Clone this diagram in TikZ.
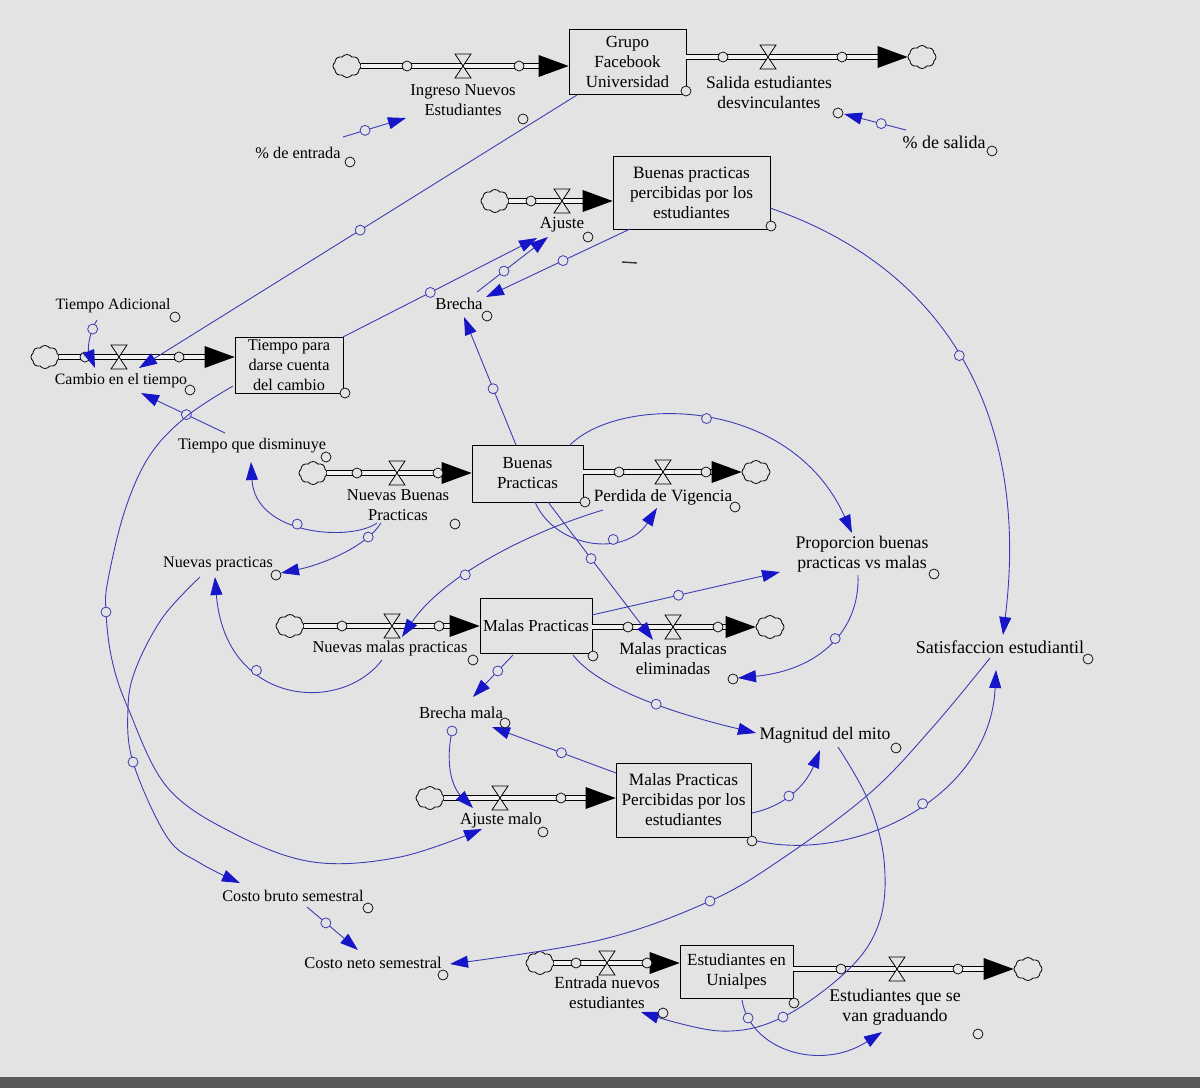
\documentclass[tikz,border=0pt]{standalone}
\usepackage{fontspec}
\setmainfont{Liberation Serif}
\usetikzlibrary{arrows.meta,shapes.symbols}
\definecolor{bg}{HTML}{E3E3E3}
\definecolor{pipein}{HTML}{F2F2F2}
\definecolor{linkc}{HTML}{3C3CB4}
\definecolor{headc}{HTML}{1616C8}
\tikzset{
  stock/.style={draw=black, line width=0.7pt, fill=bg, align=center, inner sep=0pt, font=\fontsize{#1}{20}\selectfont},
  lbl/.style={align=center, inner sep=0pt, font=\fontsize{#1}{20}\selectfont},
  cloudn/.style={cloud, cloud puffs=8, cloud puff arc=110, aspect=1.25, draw=black, line width=0.8pt, fill=bg, minimum width=28pt, minimum height=23pt, inner sep=0pt},
  pipe/.style={draw=black, line width=1pt, double=pipein, double distance=4.2pt},
  link/.style={draw=linkc, line width=0.9pt, -{Triangle[length=18pt,width=12pt,fill=headc,color=headc]}},
  hnode/.style={circle, draw=linkc, fill=bg, line width=0.8pt, minimum size=10pt, inner sep=0pt},
  bc/.style={draw=black, fill=bg, line width=0.7pt},
  hc/.style={draw=linkc, fill=bg, line width=0.8pt},
  valve/.pic={\draw[line width=0.8pt, fill=bg] (-8,-12) -- (8,-12) -- (-8,12) -- (8,12) -- cycle;},
  phead/.pic={\fill[black] (0,0) -- (-30,-11) -- (-30,11) -- cycle;},
}
\begin{document}
\begin{tikzpicture}[x=1pt,y=-1pt]
\fill[bg] (0,0) rectangle (1200,1088);
\useasboundingbox (0,0) rectangle (1200,1088);
\fill[black!65] (0,1077) rectangle (1200,1088);

% stocks
\node[stock=17, minimum width=117pt, minimum height=65pt] (grupo) at (627.5,62) {Grupo\\Facebook\\Universidad};
\node[stock=17.3, minimum width=157pt, minimum height=73pt] (bpp) at (691.5,192.5) {Buenas practicas\\percibidas por los\\estudiantes};
\node[stock=16.3, minimum width=108pt, minimum height=56pt] (tp) at (289,365) {Tiempo para\\darse cuenta\\del cambio};
\node[stock=16.9, minimum width=111pt, minimum height=57pt] (bp) at (527.5,473.5) {Buenas\\Practicas};
\node[stock=16.8, minimum width=112pt, minimum height=55pt] (mp) at (536,625.5) {Malas Practicas};
\node[stock=17.3, minimum width=135pt, minimum height=74pt] (mpp) at (683.5,800) {Malas Practicas\\Percibidas por los\\estudiantes};
\node[stock=17, minimum width=113pt, minimum height=53pt] (eu) at (736.5,971.5) {Estudiantes en\\Unialpes};

% clouds
\node[cloudn] (c1) at (347,66) {};
\node[cloudn] (c2) at (922,57) {};
\node[cloudn] (c3) at (495,201) {};
\node[cloudn] (c4) at (45,357) {};
\node[cloudn] (c5) at (313,473) {};
\node[cloudn] (c6) at (756,472) {};
\node[cloudn] (c7) at (290,626) {};
\node[cloudn] (c8) at (770,627) {};
\node[cloudn] (c9) at (430,798) {};
\node[cloudn] (c10) at (540,963) {};
\node[cloudn] (c11) at (1028,969) {};

% pipes
\draw[pipe, shorten >=29pt] (c1.east) -- (c1.east -| grupo.west);
\draw[pipe, shorten >=29pt] (grupo.east |- c2.west) -- (c2.west);
\draw[pipe, shorten >=29pt] (c3.east) -- (c3.east -| bpp.west);
\draw[pipe, shorten >=29pt] (c4.east) -- (c4.east -| tp.west);
\draw[pipe, shorten >=29pt] (c5.east) -- (c5.east -| bp.west);
\draw[pipe, shorten >=29pt] (bp.east |- c6.west) -- (c6.west);
\draw[pipe, shorten >=29pt] (c7.east) -- (c7.east -| mp.west);
\draw[pipe, shorten >=29pt] (mp.east |- c8.west) -- (c8.west);
\draw[pipe, shorten >=29pt] (c9.east) -- (c9.east -| mpp.west);
\draw[pipe, shorten >=29pt] (c10.east) -- (c10.east -| eu.west);
\draw[pipe, shorten >=29pt] (eu.east |- c11.west) -- (c11.west);

\pic at (c1.east -| grupo.west) {phead};
\pic at (c2.west) {phead};
\pic at (c3.east -| bpp.west) {phead};
\pic at (c4.east -| tp.west) {phead};
\pic at (c5.east -| bp.west) {phead};
\pic at (c6.west) {phead};
\pic at (c7.east -| mp.west) {phead};
\pic at (c8.west) {phead};
\pic at (c9.east -| mpp.west) {phead};
\pic at (c10.east -| eu.west) {phead};
\pic at (c11.west) {phead};

% valves
\pic at (463,66) {valve};
\pic at (768,57) {valve};
\pic at (562,201) {valve};
\pic at (119,357) {valve};
\pic at (397,473) {valve};
\pic at (663,472) {valve};
\pic at (392,626) {valve};
\pic at (673,627) {valve};
\pic at (500,798) {valve};
\pic at (607,963) {valve};
\pic at (897,969) {valve};

% pipe circles
\foreach \p in {(407,66),(519,66),(723,57),(842,57),(531,201),(85,357),(179,357),(357,473),(438,473),(619,472),(706,472),(342,626),(439,626),(628,627),(718,627),(561,798),(576,963),(647,963),(841,969),(958,969)}
  \draw[bc] \p circle (5pt);

% links
\draw[link] (343,137) -- node[hnode,pos=.35] (h1) {} (406,118);
\draw[link] (906,130) -- node[hnode,pos=.4] (h2) {} (844,114);
\draw[link] (577,95) -- node[hnode,pos=.495] (h3) {} (139,368);
\draw[link] (343,337) -- node[hnode,pos=.45] (h4) {} (537,238);
\draw[link] (477,292) -- node[hnode,pos=.38] (h5) {} (548,237);
\draw[link] (630,229) -- node[hnode,pos=.465] (h6) {} (486,297);
\draw[link] (516,445) -- node[hnode,pos=.44] (h7) {} (464,317);
\draw[link] (97,320) .. controls (88,335) and (88,350) .. node[hnode,pos=.2] (h8) {} (95,368);
\draw[link] (225,433) -- node[hnode,pos=.46] (h9) {} (141,393);
\draw[link] plot[smooth, tension=0.6] coordinates {(233,386) (187,416) (150,455) (125,510) (108,580) (106,612) (112,660) (128,708) (167,787) (233,833) (313,862) (400,857) (482,829)};
\draw[hc] (106,612) circle (5pt);
\draw[link] (377,523) .. controls (350,542) and (255,535) .. node[hnode,pos=.55] (h11) {} (251,462);
\draw[link] (381,523) .. controls (365,548) and (320,565) .. node[hnode,pos=.2] (h12) {} (281,573);
\draw[link] (382,660) .. controls (340,715) and (225,705) .. node[hnode,pos=.65] (h13) {} (215,577);
\draw[link] plot[smooth, tension=0.6] coordinates {(200,577) (163,617) (136,668) (128,708) (133,762) (167,837) (200,863) (240,883)};
\draw[hc] (133,762) circle (5pt);
\draw[link] (307,907) -- node[hnode,pos=.37] (h15) {} (358,950);
\draw[link] plot[smooth, tension=0.6] coordinates {(990,658) (932,728) (870,793) (783,858) (710,901) (600,940) (450,964)};
\draw[hc] (710,901) circle (5pt);
\draw[link] (770,208) .. controls (950,270) and (1030,420) .. node[hnode,pos=.48] (h17) {} (1003,635);
\draw[link] (570,445) .. controls (620,395) and (790,395) .. node[hnode,pos=.5] (h18) {} (852,533);
\draw[link] (535,502) .. controls (555,548) and (625,558) .. node[hnode,pos=.65] (h19) {} (657,508);
\draw[link] (548,502) -- node[hnode,pos=.41] (h20) {} (653,640);
\draw[link] (603,510) .. controls (520,535) and (440,580) .. node[hnode,pos=.6] (h21) {} (402,637);
\draw[link] (592,615) -- node[hnode,pos=.46] (h22) {} (780,572);
\draw[link] (858,575) .. controls (860,630) and (820,670) .. node[hnode,pos=.45] (h23) {} (738,678);
\draw[link] (513,655) -- node[hnode,pos=.38] (h24) {} (473,697);
\draw[link] (573,655) .. controls (600,690) and (680,715) .. node[hnode,pos=.55] (h25) {} (756,733);
\draw[link] (452,731) .. controls (444,770) and (455,790) .. (473,808);
\draw[hc] (452,731) circle (5pt);
\draw[link] (616,773) -- node[hnode,pos=.44] (h27) {} (492,727);
\draw[link] (752,813) .. controls (790,805) and (808,780) .. node[hnode,pos=.4] (h28) {} (820,750);
\draw[link] (753,840) .. controls (850,865) and (990,800) .. node[hnode,pos=.55] (h29) {} (996,670);
\draw[link] plot[smooth, tension=0.6] coordinates {(838,747) (868,800) (884,860) (880,920) (850,968) (783,1017) (720,1031) (641,1012)};
\draw[hc] (783,1017) circle (5pt);
\draw[link] (742,1000) .. controls (750,1050) and (820,1072) .. node[hnode,pos=.13] (h31) {} (882,1032);

% small dash
\draw[line width=1.4pt, black!80] (622,262) -- (637,263);

% labels
\node[lbl=16.7] (lingreso) at (463,100) {Ingreso Nuevos\\Estudiantes};
\node[lbl=17.5] (lsalida) at (769,93) {Salida estudiantes\\desvinculantes};
\node[lbl=16.3] (lpent) at (298,153) {\% de entrada};
\node[lbl=18] (lpsal) at (944,142) {\% de salida};
\node[lbl=17] (lajuste) at (562,225) {Ajuste};
\node[lbl=16.7] (lbrecha) at (459,304) {Brecha};
\node[lbl=15.8] (ltadic) at (113,306) {Tiempo Adicional};
\node[lbl=15.8] (lcambio) at (121,381) {Cambio en el tiempo};
\node[lbl=16.1] (ltqd) at (252,446) {Tiempo que disminuye};
\node[lbl=16.5] (lnbp) at (398,505) {Nuevas Buenas\\Practicas};
\node[lbl=17.2] (lperd) at (663,497) {Perdida de Vigencia};
\node[lbl=16.1] (lnp) at (218,564) {Nuevas practicas};
\node[lbl=17.8] (lprop) at (862,554) {Proporcion buenas\\practicas vs malas};
\node[lbl=16.5] (lnmp) at (390,649) {Nuevas malas practicas};
\node[lbl=17.2] (lmpe) at (673,659) {Malas practicas\\eliminadas};
\node[lbl=18.1] (lsatis) at (1000,647) {Satisfaccion estudiantil};
\node[lbl=16.7] (lbmala) at (461,713) {Brecha mala};
\node[lbl=17.6] (lmito) at (825,735) {Magnitud del mito};
\node[lbl=16.8] (lamalo) at (501,820) {Ajuste malo};
\node[lbl=16.2] (lcbruto) at (293,896) {Costo bruto semestral};
\node[lbl=16.5] (lcneto) at (373,963) {Costo neto semestral};
\node[lbl=17] (lentrada) at (607,993) {Entrada nuevos\\estudiantes};
\node[lbl=17.8] (lgrad) at (895,1007) {Estudiantes que se\\van graduando};

% label / stock circles
\foreach \p in {(523,119),(838,113),(350,162),(992,151),(588,237),(487,316),(175,317),(190,390),(326,457),(455,524),(735,507),(276,575),(934,574),(473,660),(733,679),(1088,659),(505,723),(896,748),(543,832),(368,908),(443,975),(663,1013),(978,1034),(686,91),(771,226),(345,393),(585,502),(593,656),(752,841),(794,1003)}
  \draw[bc] \p circle (5pt);
\end{tikzpicture}
\end{document}
